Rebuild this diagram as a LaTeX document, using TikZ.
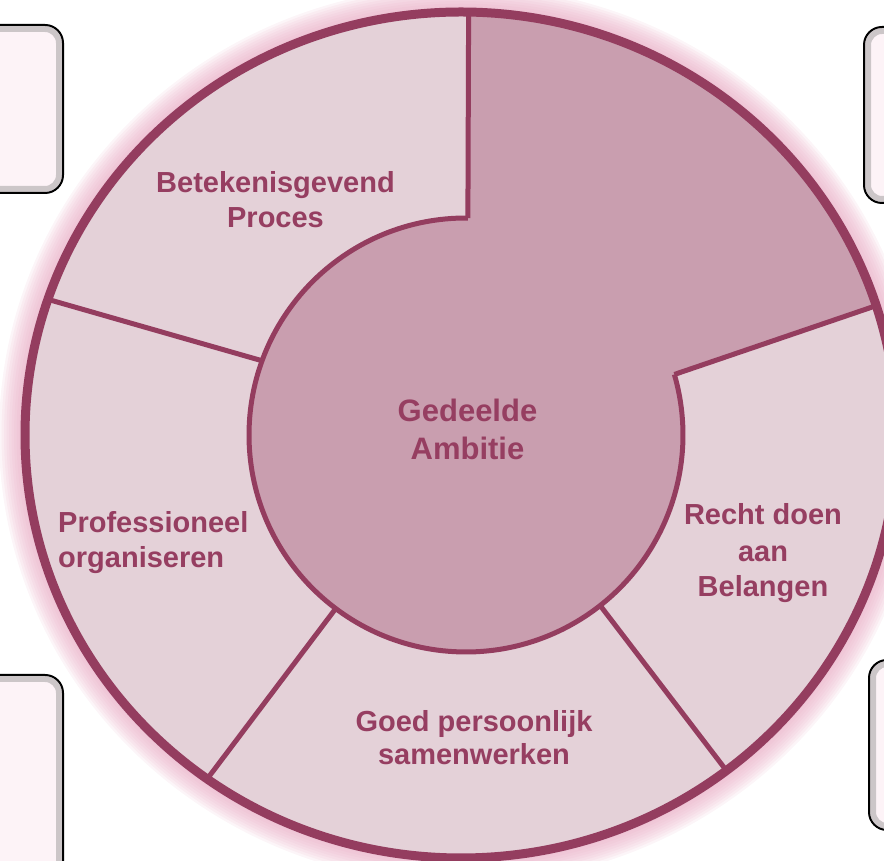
\documentclass[tikz,border=0pt]{standalone}
\usepackage{fontspec}
\setmainfont{Liberation Sans}
\usetikzlibrary{calc}
\definecolor{ringc}{RGB}{148,61,95}
\definecolor{darkfill}{RGB}{201,158,175}
\definecolor{lightfill}{RGB}{228,209,216}
\definecolor{textc}{RGB}{150,62,97}
\definecolor{glowc}{RGB}{232,170,195}
\definecolor{boxfill}{RGB}{253,243,247}
\begin{document}
\begin{tikzpicture}[x=1pt,y=1pt,
  lbl/.style={font=\fontsize{29}{35}\selectfont\bfseries, text=textc, inner sep=0pt},
  biglbl/.style={font=\fontsize{31}{38}\selectfont\bfseries, text=textc, inner sep=0pt},
  divider/.style={draw=ringc, line width=5, line cap=butt},
  sidebox/.style={fill=boxfill, draw=black, line width=2, rounded corners=18},
  boxshade/.style={draw=black!55, line width=6, opacity=0.35, rounded corners=14}]
\useasboundingbox (0,0) rectangle (884,861);
\clip (0,0) rectangle (884,861);
\coordinate (O) at (461,426);
\coordinate (C) at (466,426);
% side boxes
\path[sidebox] (-30,668) rectangle (63,836);
\draw[boxshade] (-30,672) rectangle (59,832);
\path[sidebox] (864,658) rectangle (920,834);
\draw[boxshade] (868,662) rectangle (920,830);
\path[sidebox] (-30,-30) rectangle (63,186);
\draw[boxshade] (-30,-30) rectangle (59,182);
\path[sidebox] (869,31) rectangle (920,201);
\draw[boxshade] (873,35) rectangle (920,197);
% glow
\foreach \w in {52,47,...,10}
  \draw[glowc, opacity=0.12, line width=\w] (O) ellipse [x radius=436, y radius=423];
% light ring
\fill[lightfill] (O) ellipse [x radius=436, y radius=423];
% dark centre + top-right sector
\coordinate (i90) at ($(C)+(89.5:217)$);
\coordinate (o90) at ($(O)+(89:436 and 423)$);
\coordinate (i18) at ($(C)+(16.2:217)$);
\coordinate (o18) at ($(O)+(17.8:436 and 423)$);
\coordinate (i160) at ($(C)+(160:217)$);
\coordinate (o160) at ($(O)+(161.3:436 and 423)$);
\coordinate (i233) at ($(C)+(233.1:217)$);
\coordinate (o233) at ($(O)+(234.4:436 and 423)$);
\coordinate (i308) at ($(C)+(308.2:217)$);
\coordinate (o308) at ($(O)+(307.5:436 and 423)$);
\fill[darkfill] (i90) -- (o90) arc[start angle=89, end angle=17.8, x radius=436, y radius=423]
  -- (i18) arc[start angle=16.2, end angle=-270.5, radius=217] -- cycle;
% inner boundary
\draw[ringc, line width=5] (i90) arc[start angle=89.5, end angle=376.2, radius=217];
% dividers
\draw[divider] (i90) -- (o90);
\draw[divider] (i18) -- (o18);
\draw[divider] (i160) -- (o160);
\draw[divider] (i233) -- (o233);
\draw[divider] (i308) -- (o308);
% outer boundary
\draw[ringc, line width=9] (O) ellipse [x radius=436, y radius=423];
% labels
\node[biglbl, anchor=base] (ga1) at (467.5,439) {Gedeelde};
\node[biglbl, anchor=base] (ga2) at (467.5,401) {Ambitie};
\node[lbl, anchor=base] (bp1) at (275.5,668) {Betekenisgevend};
\node[lbl, anchor=base] (bp2) at (275.5,633) {Proces};
\node[lbl, anchor=base west] (po1) at (58,328) {Professioneel};
\node[lbl, anchor=base west] (po2) at (58,293) {organiseren};
\node[lbl, anchor=base] (rb1) at (763,336) {Recht doen};
\node[lbl, anchor=base] (rb2) at (763,299) {aan};
\node[lbl, anchor=base] (rb3) at (763,264) {Belangen};
\node[lbl, anchor=base] (gs1) at (474,129) {Goed persoonlijk};
\node[lbl, anchor=base] (gs2) at (474,96) {samenwerken};
\end{tikzpicture}
\end{document}
